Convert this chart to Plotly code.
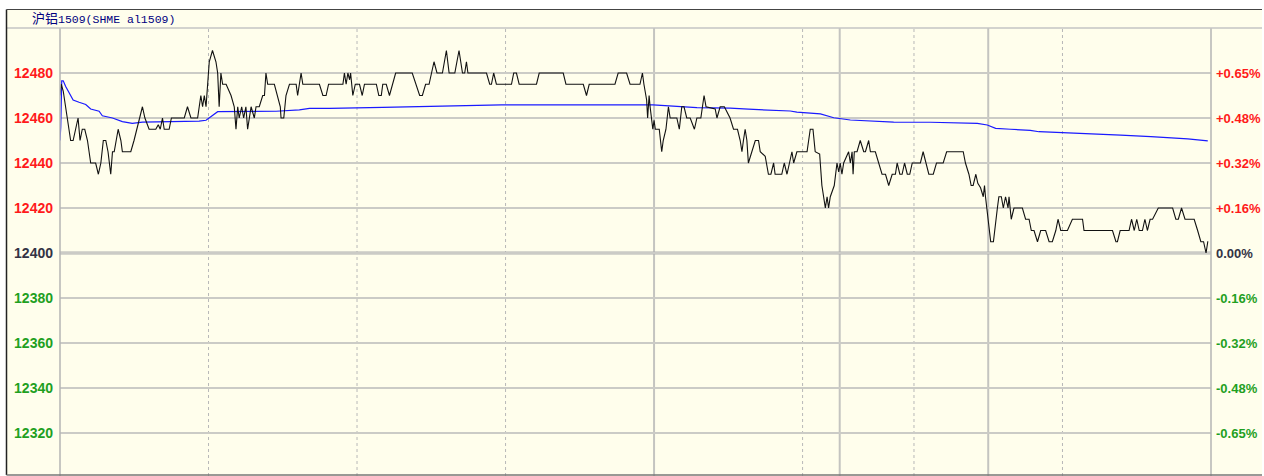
import plotly.graph_objects as go

# ---------------- data ----------------
PREV_CLOSE = 12400
TOTAL_MIN = 465  # 21:00-01:00 night + 9:00-10:15, 10:30-11:30, 13:30-15:00
TITLE = "沪铝1509(SHME al1509)"

# price line vertices: (minute index, price)
price_pts = [
    (0, 12470), (0.5, 12475), (1.3, 12472), (2.3, 12465), (3.6, 12455), (4.3, 12450), (5.3, 12450),
    (6.3, 12455), (7.3, 12460), (8.1, 12450), (9.0, 12455), (10.0, 12455), (11.1, 12450), (12.4, 12440),
    (14.4, 12440), (15.5, 12435), (16.5, 12440), (17.5, 12450), (18.5, 12450), (19.4, 12445), (20.5, 12435),
    (21.2, 12445), (21.9, 12445), (23.5, 12455), (24.6, 12450), (25.2, 12445), (28.6, 12445), (29.9, 12450),
    (31.0, 12455), (33.3, 12465), (34.3, 12460), (36.0, 12455), (38.7, 12455), (39.7, 12457), (40.5, 12455),
    (41.4, 12460), (42.1, 12455), (44.1, 12455), (45.0, 12460), (50.2, 12460), (51.5, 12465), (52.9, 12460),
    (55.6, 12460), (56.9, 12470), (57.6, 12465), (58.3, 12470), (59.0, 12465), (59.6, 12475), (60.3, 12485),
    (61.6, 12490), (63.0, 12485), (63.7, 12480), (64.3, 12465), (65.0, 12480), (65.7, 12475), (67.1, 12475),
    (69.1, 12470), (70.4, 12465), (71.1, 12455), (71.8, 12465), (72.4, 12460), (73.4, 12465), (74.2, 12460),
    (75.1, 12465), (75.8, 12455), (77.2, 12465), (78.5, 12460), (79.2, 12465), (80.5, 12465), (81.9, 12470),
    (82.6, 12470), (83.2, 12480), (83.9, 12475), (86.6, 12475), (87.9, 12470), (89.0, 12465), (89.3, 12460),
    (90.4, 12460), (91.3, 12470), (92.7, 12475), (95.4, 12475), (96.0, 12470), (97.4, 12480), (98.1, 12475),
    (104.8, 12475), (106.2, 12470), (107.5, 12470), (108.5, 12475), (114.3, 12475), (114.9, 12480),
    (115.6, 12475), (116.3, 12480), (117.0, 12477), (117.4, 12480), (118.3, 12470), (119.3, 12475),
    (121.0, 12475), (122.1, 12470), (123.0, 12475), (127.8, 12475), (128.8, 12470), (129.8, 12470),
    (130.4, 12475), (131.8, 12475), (133.1, 12470), (134.5, 12475), (135.6, 12480), (142.3, 12480),
    (143.7, 12475), (145.3, 12470), (146.4, 12470), (147.7, 12475), (149.1, 12475), (150.0, 12480),
    (151.1, 12485), (152.3, 12480), (154.5, 12480), (156.1, 12490), (157.2, 12480), (159.5, 12480),
    (161.2, 12490), (162.6, 12480), (163.5, 12480), (164.2, 12485), (164.8, 12480), (172.3, 12480),
    (173.6, 12475), (174.3, 12475), (175.2, 12480), (176.3, 12475), (182.4, 12475), (183.3, 12480),
    (184.4, 12480), (185.5, 12475), (192.5, 12475), (193.6, 12480), (203.3, 12480), (204.4, 12475),
    (211.4, 12475), (212.7, 12470), (213.8, 12475), (224.2, 12475), (225.5, 12480), (228.9, 12480),
    (230.3, 12475), (234.3, 12475), (235.3, 12480), (235.9, 12475), (237.0, 12468), (237.4, 12460),
    (238.0, 12470), (238.4, 12465), (239.1, 12460), (239.5, 12455), (240.0, 12459), (240.5, 12455),
    (242.1, 12455), (243.1, 12445), (243.7, 12450), (244.8, 12455), (245.8, 12465), (246.5, 12460),
    (249.2, 12460), (250.2, 12455), (251.2, 12465), (252.1, 12465), (253.2, 12460), (254.6, 12460),
    (256.3, 12455), (257.3, 12460), (258.9, 12460), (260.2, 12470), (261.0, 12465), (264.7, 12464),
    (265.4, 12460), (266.7, 12465), (268.4, 12465), (270.7, 12460), (272.1, 12455), (273.7, 12455),
    (274.8, 12450), (275.5, 12445), (276.1, 12450), (276.8, 12455), (277.5, 12450), (278.1, 12440),
    (279.5, 12445), (280.9, 12450), (282.2, 12450), (282.9, 12445), (284.9, 12443), (286.2, 12435),
    (287.2, 12435), (288.3, 12440), (288.9, 12435), (291.6, 12435), (292.6, 12440), (293.7, 12435),
    (295.7, 12445), (296.4, 12440), (297.7, 12445), (301.8, 12445), (303.1, 12455), (304.2, 12455),
    (305.1, 12445), (306.9, 12444), (307.8, 12430), (308.5, 12425), (309.2, 12420), (309.9, 12425),
    (310.5, 12420), (311.2, 12425), (312.8, 12430), (313.9, 12440), (314.6, 12436), (315.2, 12440),
    (315.9, 12435), (316.6, 12440), (318.6, 12445), (319.3, 12440), (320.0, 12445), (320.4, 12435),
    (320.9, 12445), (322.0, 12445), (323.3, 12450), (324.7, 12445), (325.4, 12445), (326.7, 12450),
    (327.4, 12445), (329.4, 12445), (330.8, 12440), (332.1, 12435), (333.5, 12435), (334.8, 12430),
    (336.2, 12435), (337.5, 12435), (338.2, 12440), (339.3, 12435), (340.2, 12435), (341.2, 12440),
    (342.3, 12435), (343.3, 12435), (344.3, 12440), (347.6, 12440), (348.7, 12445), (349.7, 12440),
    (351.0, 12435), (352.8, 12435), (354.1, 12440), (356.8, 12440), (358.2, 12445), (364.9, 12445),
    (365.8, 12440), (367.2, 12435), (368.1, 12430), (368.9, 12430), (370.0, 12435), (370.8, 12431),
    (371.9, 12429), (373.0, 12425), (373.5, 12430), (373.9, 12425), (374.6, 12418), (375.3, 12410),
    (376.0, 12405), (377.1, 12405), (378.0, 12415), (378.7, 12420), (379.3, 12425), (380.3, 12425),
    (381.1, 12420), (382.0, 12425), (383.0, 12420), (383.4, 12425), (384.3, 12415), (385.4, 12420),
    (388.8, 12420), (390.1, 12415), (391.5, 12415), (392.4, 12410), (393.5, 12410), (394.9, 12405),
    (396.2, 12410), (398.2, 12410), (399.6, 12405), (400.9, 12405), (402.3, 12410), (403.2, 12415),
    (404.3, 12410), (407.0, 12410), (409.0, 12415), (413.1, 12415), (413.7, 12410), (425.2, 12410),
    (426.6, 12405), (427.2, 12405), (428.3, 12410), (431.9, 12410), (432.9, 12415), (434.0, 12410),
    (435.0, 12415), (436.0, 12410), (437.3, 12410), (438.3, 12415), (439.3, 12410), (440.4, 12415),
    (441.4, 12415), (442.7, 12418), (443.7, 12420), (449.5, 12420), (450.8, 12415), (451.8, 12415),
    (453.1, 12420), (454.5, 12415), (458.2, 12415), (459.6, 12410), (460.9, 12405), (462.0, 12405),
    (463.0, 12400), (463.7, 12405), (463.9, 12405),
]
price_min = [p[0] for p in price_pts]
price_val = [p[1] for p in price_pts]

# average-price line vertices
avg_min = [0, 0.3, 0.7, 1.3, 2.3, 5.3, 7.7, 10.4, 12.4, 15.8, 17.1, 21.2, 25.2, 29.2, 33.3, 56.2, 59.0,
           61.6, 63.7, 87.3, 91.3, 96.7, 100.8, 108.9, 130.4, 154.7, 178.3, 239.6, 245.1, 257.3, 270.7,
           278.1, 295.0, 297.7, 307.2, 312.6, 319.3, 330.1, 336.8, 351.7, 370.6, 374.6, 378.0, 384.0,
           392.0, 395.5, 405.0, 413.7, 428.5, 440.7, 450.1, 455.6, 463.7]
avg_val = [12450, 12456, 12476.5, 12476.5, 12474, 12468, 12467, 12466, 12464, 12463, 12461, 12460,
           12458.4, 12457.6, 12458.2, 12458.6, 12459, 12461, 12462.8, 12463, 12463.2, 12463.6, 12464.3,
           12464.3, 12464.7, 12465.3, 12465.8, 12465.8, 12465.4, 12464.6, 12464.4, 12463.9, 12463.1,
           12462.6, 12461.8, 12460.1, 12459.1, 12458.7, 12458.2, 12458.1, 12457.6, 12456.9, 12455.4,
           12455.0, 12454.5, 12453.9, 12453.5, 12453.2, 12452.4, 12451.7, 12451.2, 12450.7, 12449.8]

tick_vals = [12320, 12340, 12360, 12380, 12400, 12420, 12440, 12460, 12480]
pct_labels = ["-0.65%", "-0.48%", "-0.32%", "-0.16%", "0.00%", "+0.16%", "+0.32%", "+0.48%", "+0.65%"]
hour_marks = [60, 120, 180, 300, 345, 405]      # dashed vertical lines (whole hours)
session_breaks = [240, 315, 375]               # solid vertical lines (session ends)

# ---------------- styling / layout ----------------
W, H = 1264, 476
ML, MR, MT, MB = 60, 53, 28, 0
PW, PH = W - ML - MR, H - MT - MB
PX_PER_UNIT = 2.25
Y_TOP = 12500
Y_BOT = Y_TOP - PH / PX_PER_UNIT

RED, GREEN, DARK = "#ff1a1a", "#1fa01f", "#333344"
BG = "#fffeec"
GRID = "#cbcbc6"


def px_x(px):
    return (px - ML) / PW


def px_y(py):
    return (H - MB - py) / PH


def col(v):
    return RED if v > PREV_CLOSE else (GREEN if v < PREV_CLOSE else DARK)


left_text = [f'<span style="color:{col(v)}">{v}</span>' for v in tick_vals]
right_text = [f'<span style="color:{col(v)}">{t}</span>' for v, t in zip(tick_vals, pct_labels)]

fig = go.Figure()
fig.add_trace(go.Scatter(x=avg_min, y=avg_val, mode="lines",
                         line=dict(color="#1a1aff", width=1.2), hoverinfo="skip", showlegend=False))
fig.add_trace(go.Scatter(x=price_min, y=price_val, mode="lines",
                         line=dict(color="#111111", width=1.1), hoverinfo="skip", showlegend=False))
fig.add_trace(go.Scatter(x=[0], y=[PREV_CLOSE], yaxis="y2", mode="markers",
                         marker=dict(opacity=0), hoverinfo="skip", showlegend=False))

shapes = []
# frame background
shapes.append(dict(type="rect", xref="paper", yref="paper", x0=px_x(6.5), x1=px_x(1262), y0=px_y(475),
                   y1=px_y(9.5), fillcolor=BG, line=dict(width=0), layer="below"))
# vertical lines
for m in hour_marks:
    shapes.append(dict(type="line", xref="x", yref="paper", x0=m, x1=m, y0=0, y1=1,
                       line=dict(color="#b8b8b8", width=1, dash="3px,3px"), layer="below"))
for m in session_breaks:
    shapes.append(dict(type="line", xref="x", yref="paper", x0=m, x1=m, y0=0, y1=1,
                       line=dict(color="#c4c4c0", width=2), layer="below"))
# previous close line
shapes.append(dict(type="line", xref="paper", yref="y", x0=0, x1=1, y0=PREV_CLOSE, y1=PREV_CLOSE,
                   line=dict(color="#b0b0b0", width=3), layer="below"))
# plot borders
shapes.append(dict(type="line", xref="paper", yref="paper", x0=0, x1=0, y0=0, y1=1,
                   line=dict(color="#b4b4b4", width=1.5), layer="above"))
shapes.append(dict(type="line", xref="paper", yref="paper", x0=1, x1=1, y0=0, y1=1,
                   line=dict(color="#b4b4b4", width=1.5), layer="above"))
shapes.append(dict(type="line", xref="paper", yref="paper", x0=px_x(6.5), x1=px_x(1262), y0=1, y1=1,
                   line=dict(color="#c4c4c4", width=1.5), layer="above"))
# outer frame
shapes.append(dict(type="line", xref="paper", yref="paper", x0=px_x(6.5), x1=px_x(6.5), y0=px_y(475),
                   y1=px_y(9.5), line=dict(color="#222222", width=1.5), layer="above"))
shapes.append(dict(type="line", xref="paper", yref="paper", x0=px_x(6.5), x1=px_x(1262), y0=px_y(9.5),
                   y1=px_y(9.5), line=dict(color="#444444", width=1.2), layer="above"))
shapes.append(dict(type="line", xref="paper", yref="paper", x0=px_x(6.5), x1=px_x(1262), y0=px_y(475),
                   y1=px_y(475), line=dict(color="#777777", width=1.5), layer="above"))

title_html = ('<span style="font-family:\'Noto Sans CJK SC\';font-size:13px">' + TITLE[:2] + '</span>'
              + TITLE[2:])

fig.update_layout(
    width=W, height=H,
    margin=dict(l=ML, r=MR, t=MT, b=MB, pad=0),
    paper_bgcolor="white",
    plot_bgcolor=BG,
    showlegend=False,
    shapes=shapes,
    xaxis=dict(range=[0, TOTAL_MIN], showgrid=False, zeroline=False, showticklabels=False,
               ticks="", showline=False, fixedrange=True),
    yaxis=dict(range=[Y_BOT, Y_TOP], tickvals=tick_vals, ticktext=left_text, showgrid=True,
               gridcolor=GRID, gridwidth=1.5, zeroline=False, ticks="", showline=False,
               ticklabelstandoff=6,
               tickfont=dict(family="Liberation Sans, Arial", size=14, weight="bold")),
    yaxis2=dict(range=[Y_BOT, Y_TOP], overlaying="y", side="right", tickvals=tick_vals,
                ticktext=right_text, showgrid=False, zeroline=False, ticks="", showline=False,
                ticklabelstandoff=4,
                tickfont=dict(family="Liberation Sans, Arial", size=13, weight="bold")),
    annotations=[dict(text=title_html, xref="paper", yref="paper", x=px_x(30), y=px_y(17.5),
                      xanchor="left", yanchor="middle", showarrow=False,
                      font=dict(family="Liberation Mono, Noto Sans CJK SC", size=11.5, color="#000080"))],
)

fig.write_html("out.html", config={"displayModeBar": False},
               post_script="document.body.style.margin='0';document.body.style.overflow='hidden';")
